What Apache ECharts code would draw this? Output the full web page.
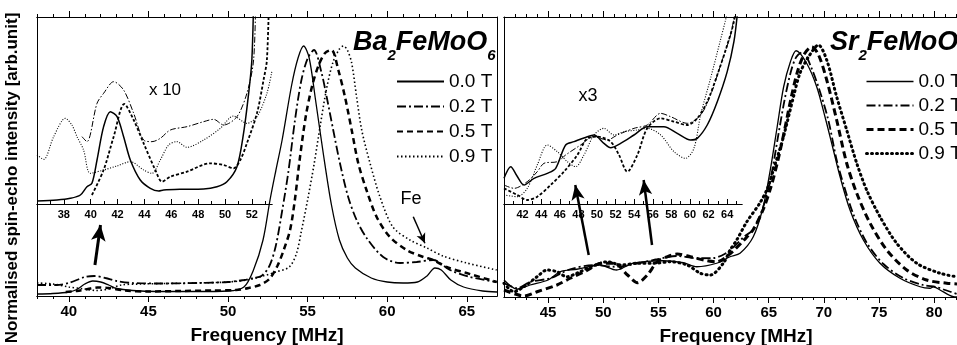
<!DOCTYPE html>
<html>
<head>
<meta charset="utf-8">
<script src="https://cdn.jsdelivr.net/npm/echarts@6.0.0/dist/echarts.min.js"></script>
<style>
  html, body { margin: 0; background: #fff; }
  #chart { width: 957px; height: 345px; }
</style>
</head>
<body>
<div id="chart"></div>
<script>
// ---- Ba2FeMoO6, main spectra (frequency MHz, normalised intensity) ----
var baMain00 = [[38.0,0.008],[39.0,0.010],[40.0,0.016],[40.5,0.026],[41.0,0.048],[41.5,0.060],[42.0,0.056],[42.5,0.044],[43.0,0.030],[44.0,0.022],[45.5,0.018],[48.0,0.018],[50.0,0.020],[51.0,0.036],[51.6,0.104],[52.2,0.224],[52.64,0.384],[53.0,0.500],[53.4,0.624],[54.0,0.844],[54.4,0.952],[54.75,1.0],[55.1,0.952],[55.5,0.784],[56.0,0.564],[56.5,0.364],[57.0,0.224],[57.5,0.152],[58.0,0.112],[59.0,0.072],[60.0,0.056],[61.0,0.052],[61.9,0.056],[62.5,0.080],[63.0,0.112],[63.4,0.104],[64.0,0.064],[64.8,0.036],[66.0,0.020],[66.9,0.016]];
var baMain02 = [[38.0,0.044],[39.2,0.044],[40.0,0.052],[41.0,0.076],[41.6,0.080],[42.3,0.072],[43.0,0.060],[44.0,0.052],[46.0,0.050],[48.0,0.052],[50.0,0.056],[51.0,0.064],[51.6,0.072],[52.1,0.080],[52.6,0.120],[53.0,0.200],[53.4,0.340],[53.8,0.500],[54.2,0.700],[54.6,0.860],[55.0,0.950],[55.4,0.984],[55.88,0.892],[56.2,0.796],[56.61,0.664],[57.03,0.532],[57.55,0.396],[58.08,0.304],[58.71,0.232],[59.75,0.156],[60.8,0.132],[61.85,0.136],[62.89,0.144],[63.94,0.104],[65.2,0.076],[66.88,0.056]];
var baMain05 = [[39.8,0.016],[40.5,0.020],[41.2,0.028],[41.8,0.034],[42.5,0.032],[43.5,0.022],[45.0,0.018],[47.0,0.020],[49.0,0.022],[50.5,0.024],[51.3,0.032],[52.0,0.044],[52.6,0.068],[53.1,0.120],[53.5,0.184],[53.9,0.264],[54.2,0.384],[54.5,0.544],[54.9,0.724],[55.3,0.844],[55.7,0.924],[56.1,0.972],[56.5,0.984],[56.93,0.904],[57.35,0.796],[57.77,0.664],[58.18,0.532],[58.7,0.424],[59.34,0.316],[60.17,0.236],[61.22,0.184],[62.27,0.156],[62.9,0.144],[63.73,0.116],[64.99,0.092],[66.88,0.056]];
var baMain09 = [[38.0,0.052],[39.0,0.048],[40.0,0.036],[41.0,0.028],[41.7,0.022],[42.5,0.028],[43.3,0.044],[44.5,0.048],[46.0,0.050],[48.0,0.052],[50.0,0.056],[51.2,0.064],[52.2,0.080],[53.0,0.096],[53.85,0.116],[54.3,0.170],[54.6,0.256],[55.0,0.384],[55.4,0.524],[55.8,0.684],[56.2,0.832],[56.6,0.936],[57.0,0.988],[57.25,1.0],[57.5,0.984],[57.77,0.932],[58.08,0.796],[58.4,0.664],[58.92,0.532],[59.55,0.396],[60.36,0.276],[61.43,0.224],[62.5,0.192],[63.5,0.160],[65.0,0.132],[66.88,0.104]];

// ---- Ba2FeMoO6, inset (x 10) ----
var baInset00 = [[36.0,0.018],[37.49,0.024],[38.48,0.034],[39.23,0.054],[39.72,0.104],[40.09,0.124],[40.47,0.264],[40.96,0.464],[41.46,0.554],[41.96,0.524],[42.45,0.404],[42.95,0.264],[43.69,0.144],[44.44,0.094],[45.06,0.078],[45.43,0.084],[46.67,0.088],[48.41,0.090],[49.4,0.104],[50.14,0.134],[50.89,0.224],[51.38,0.424],[51.76,0.664],[52.0,0.864],[52.15,1.3]];
var baInset02 = [[39.35,0.404],[39.72,0.374],[40.47,0.604],[40.96,0.664],[41.71,0.734],[42.45,0.684],[43.2,0.544],[43.94,0.384],[44.56,0.374],[45.18,0.394],[45.93,0.444],[47.17,0.464],[48.41,0.494],[49.15,0.508],[49.9,0.474],[50.89,0.524],[51.63,0.664],[52.13,0.864],[52.3,1.3]];
var baInset05 = [[40.09,0.054],[40.96,0.204],[41.71,0.404],[42.5,0.600],[43.2,0.504],[43.94,0.364],[44.81,0.204],[45.31,0.134],[45.93,0.164],[47.17,0.194],[48.9,0.244],[49.9,0.234],[50.64,0.214],[51.14,0.264],[51.63,0.364],[52.38,0.544],[52.87,0.744],[53.12,0.864],[53.3,1.3]];
var baInset09 = [[36.0,0.294],[36.5,0.268],[37.24,0.404],[38.11,0.514],[38.6,0.474],[38.98,0.404],[39.47,0.324],[39.97,0.184],[40.96,0.204],[41.96,0.228],[42.95,0.254],[43.94,0.204],[44.56,0.184],[45.18,0.264],[45.8,0.354],[46.42,0.374],[47.17,0.340],[48.41,0.384],[49.65,0.454],[50.64,0.528],[51.63,0.484],[52.38,0.524],[53.12,0.664],[53.5,0.800]];

// ---- Sr2FeMoO6, main spectra ----
var srMain00 = [[41.0,0.068],[41.5,0.048],[42.15,0.031],[43.36,0.048],[45.0,0.068],[46.08,0.101],[47.6,0.111],[49.7,0.128],[51.2,0.108],[52.7,0.135],[55.4,0.145],[57.26,0.137],[58.47,0.121],[60.28,0.135],[61.49,0.161],[62.4,0.175],[63.6,0.241],[64.5,0.361],[65.14,0.508],[65.75,0.676],[66.35,0.840],[66.96,0.940],[67.48,0.985],[68.44,0.935],[69.35,0.841],[70.1,0.721],[70.86,0.588],[71.47,0.481],[72.37,0.348],[73.58,0.228],[75.09,0.135],[76.9,0.075],[78.72,0.041],[79.63,0.035],[79.93,0.041],[80.53,0.028],[81.74,0.001],[82.1,0.0]];
var srMain02 = [[41.0,0.056],[42.2,0.035],[43.4,0.061],[45.2,0.075],[47.0,0.111],[49.2,0.128],[51.0,0.121],[52.8,0.131],[54.9,0.151],[56.7,0.164],[58.5,0.155],[60.0,0.156],[61.0,0.172],[61.85,0.201],[62.76,0.241],[63.6,0.270],[64.5,0.360],[65.2,0.480],[65.8,0.630],[66.4,0.780],[67.0,0.900],[67.5,0.960],[68.1,0.980],[68.8,0.924],[69.6,0.828],[70.4,0.708],[71.16,0.548],[71.8,0.448],[72.7,0.328],[73.9,0.216],[75.4,0.132],[77.2,0.076],[79.0,0.048],[80.2,0.040],[81.0,0.028],[82.07,0.012]];
var srMain05 = [[41.0,0.028],[42.0,0.012],[42.8,0.004],[44.0,0.021],[45.8,0.048],[47.0,0.075],[48.6,0.108],[49.8,0.135],[51.0,0.135],[52.2,0.088],[53.1,0.057],[54.0,0.088],[54.9,0.141],[55.8,0.161],[56.7,0.172],[57.9,0.161],[59.1,0.148],[60.3,0.141],[61.55,0.175],[62.76,0.228],[63.6,0.270],[64.5,0.350],[65.2,0.440],[65.8,0.540],[66.4,0.660],[67.0,0.790],[67.6,0.900],[68.2,0.970],[68.9,1.0],[69.5,0.970],[70.26,0.868],[71.16,0.708],[72.07,0.535],[72.98,0.415],[74.19,0.295],[75.7,0.188],[77.51,0.108],[79.32,0.068],[81.14,0.055],[82.07,0.052]];
var srMain09 = [[41.0,0.055],[41.9,0.021],[42.8,0.041],[44.0,0.081],[44.9,0.108],[45.8,0.101],[46.7,0.081],[47.6,0.095],[48.9,0.121],[50.4,0.141],[51.6,0.128],[53.1,0.135],[54.6,0.135],[56.1,0.141],[57.6,0.128],[58.8,0.095],[59.7,0.088],[60.9,0.136],[61.5,0.188],[62.1,0.228],[63.0,0.300],[64.2,0.376],[64.9,0.436],[65.42,0.508],[66.33,0.640],[67.24,0.800],[67.84,0.896],[68.6,0.960],[69.5,1.008],[70.26,0.948],[71.16,0.801],[72.07,0.668],[72.98,0.535],[73.88,0.428],[75.09,0.321],[76.6,0.215],[78.42,0.135],[80.53,0.095],[82.04,0.081]];

// ---- Sr2FeMoO6, inset (x3) ----
var srInset00 = [[40.0,0.154],[40.72,0.224],[41.4,0.168],[42.15,0.114],[43.23,0.154],[44.66,0.184],[45.56,0.214],[46.63,0.354],[47.53,0.374],[48.96,0.404],[49.68,0.414],[50.75,0.364],[51.47,0.338],[52.54,0.364],[53.98,0.414],[55.41,0.464],[57.2,0.464],[58.64,0.424],[60.07,0.384],[60.79,0.394],[61.86,0.474],[62.94,0.614],[64.01,0.794],[64.73,0.974],[65.09,1.134]];
var srInset02 = [[40.0,0.114],[41.08,0.094],[42.5,0.134],[43.58,0.194],[44.3,0.244],[45.73,0.254],[46.63,0.294],[48.24,0.354],[49.68,0.404],[51.11,0.384],[52.19,0.414],[53.98,0.454],[55.41,0.474],[56.85,0.544],[57.92,0.524],[59.71,0.484],[61.15,0.534],[62.22,0.654],[63.3,0.834],[64.37,1.014],[64.73,1.114],[65.0,1.2]];
var srInset05 = [[40.0,0.094],[41.43,0.054],[42.5,0.024],[43.58,0.044],[45.02,0.114],[46.45,0.194],[47.89,0.294],[48.96,0.394],[50.04,0.404],[51.47,0.374],[52.37,0.294],[53.26,0.194],[54.34,0.294],[55.41,0.454],[56.85,0.514],[58.28,0.494],[59.71,0.474],[60.79,0.514],[61.86,0.614],[62.94,0.774],[64.01,0.954],[64.73,1.094],[65.0,1.2]];
var srInset09 = [[40.0,0.054],[41.43,0.044],[42.5,0.094],[43.58,0.234],[44.66,0.354],[45.73,0.314],[46.81,0.254],[47.71,0.224],[48.6,0.294],[49.68,0.414],[50.75,0.454],[51.83,0.414],[52.9,0.434],[54.34,0.444],[55.41,0.454],[56.85,0.414],[58.28,0.314],[59.53,0.274],[60.43,0.334],[61.15,0.534],[62.2,0.750],[63.2,0.966],[63.9,1.120],[64.2,1.2]];

// arrows (data coords: start -> tip)
var baArrowBig = [[41.64,0.124],[41.99,0.284]];
var baArrowFe = [[61.64,0.317],[62.37,0.211]];
var srArrow1 = [[48.68,0.168],[47.46,0.448]];
var srArrow2 = [[54.42,0.208],[53.66,0.468]];

// ticks / labels
var fieldNames = ['0.0 T', '0.2 T', '0.5 T', '0.9 T'];
var baMajor = [40, 45, 50, 55, 60, 65];
var srMajor = [45, 50, 55, 60, 65, 70, 75, 80];
var baInsetLabels = [38, 40, 42, 44, 46, 48, 50, 52];
var srInsetLabels = [42, 44, 46, 48, 50, 52, 54, 56, 58, 60, 62, 64];

function range(a, b) {
  var r = [];
  for (var v = a; v <= b; v++) r.push(v);
  return r;
}

var FONT = '"Liberation Sans", Arial, sans-serif';
var BLACK = '#000';

function xAxisOf(grid, min, max, pos, ticks, tickLen, labels, extra) {
  var ax = {
    gridIndex: grid, type: 'value', min: min, max: max, position: pos,
    axisLine: { show: true, onZero: false, lineStyle: { color: BLACK, width: 1 } },
    axisTick: { show: true, customValues: ticks, length: tickLen, lineStyle: { color: BLACK, width: 1 } },
    axisLabel: labels ? { customValues: labels, color: BLACK, fontWeight: 'bold', fontSize: 15, fontFamily: FONT, margin: 8 } : { show: false },
    splitLine: { show: false }
  };
  if (extra) {
    for (var k in extra) ax[k] = extra[k];
  }
  return ax;
}

var xAxes = [
  // 0..3 : Ba main (bottom minor+labels, bottom major, top minor, top major)
  xAxisOf(0, 38, 66.9, 'bottom', range(38, 66), 3, baMajor, {
    name: 'Frequency [MHz]', nameLocation: 'middle', nameGap: 30,
    nameTextStyle: { color: BLACK, fontWeight: 'bold', fontSize: 19, fontFamily: FONT }
  }),
  xAxisOf(0, 38, 66.9, 'bottom', baMajor, 6, null),
  xAxisOf(0, 38, 66.9, 'top', range(38, 66), 3, null),
  xAxisOf(0, 38, 66.9, 'top', baMajor, 6, null),
  // 4..5 : Ba inset
  xAxisOf(1, 36, 53.5, 'bottom', range(37, 53), 3, baInsetLabels),
  xAxisOf(1, 36, 53.5, 'bottom', baInsetLabels, 5, null),
  // 6..9 : Sr main
  xAxisOf(2, 41, 82.07, 'bottom', range(42, 82), 3, srMajor, {
    name: 'Frequency [MHz]', nameLocation: 'middle', nameGap: 30,
    nameTextStyle: { color: BLACK, fontWeight: 'bold', fontSize: 19, fontFamily: FONT, padding: [0, 0, 0, 11] }
  }),
  xAxisOf(2, 41, 82.07, 'bottom', srMajor, 6, null),
  xAxisOf(2, 41, 82.07, 'top', range(42, 82), 3, null),
  xAxisOf(2, 41, 82.07, 'top', srMajor, 6, null),
  // 10..11 : Sr inset
  xAxisOf(3, 40, 65.6, 'bottom', range(41, 65), 3, srInsetLabels),
  xAxisOf(3, 40, 65.6, 'bottom', srInsetLabels, 5, null)
];
// inset axes: small labels, ticks pointing inside
[4, 5, 10, 11].forEach(function (i) {
  xAxes[i].axisTick.inside = true;
  if (xAxes[i].axisLabel.customValues) {
    xAxes[i].axisLabel.fontSize = 11;
    xAxes[i].axisLabel.margin = 5;
  }
});

function frameY(grid, max, pos) {
  return {
    gridIndex: grid, type: 'value', min: 0, max: max, position: pos,
    axisLine: { show: true, onZero: false, lineStyle: { color: BLACK, width: 1 } },
    axisTick: { show: false }, axisLabel: { show: false }, splitLine: { show: false }
  };
}
var yAxes = [
  frameY(0, 1.116, 'left'),
  frameY(0, 1.116, 'right'),
  { gridIndex: 1, type: 'value', min: 0, max: 1.122, show: false },
  frameY(2, 1.12, 'left'),
  { gridIndex: 3, type: 'value', min: 0, max: 1.122, show: false }
];

function line(name, data, xi, yi, style) {
  style.color = BLACK;
  return {
    type: 'line', name: name, data: data, xAxisIndex: xi, yAxisIndex: yi,
    symbol: 'none', showSymbol: false, smooth: 0.3, clip: true, silent: true,
    itemStyle: { color: BLACK },
    lineStyle: style
  };
}

function arrow(pts, width, size) {
  return {
    silent: true, symbol: ['none', 'arrow'], symbolSize: size,
    label: { show: false },
    lineStyle: { type: 'solid', color: BLACK, width: width },
    itemStyle: { color: BLACK },
    data: [[{ coord: pts[0] }, { coord: pts[1] }]]
  };
}

// line styles
var baStyles = [
  { type: 'solid', width: 1.3 },
  { type: [9, 3, 2, 3], width: 1.8 },
  { type: [6, 4], width: 2.5 },
  { type: [1.5, 2.5], width: 1.6 }
];
var srStyles = [
  { type: 'solid', width: 1.3 },
  { type: [9, 3, 2, 3], width: 1.8 },
  { type: [7, 4], width: 3 },
  { type: [1, 4], width: 3, cap: 'round' }
];
var insetStyles = [
  { type: 'solid', width: 1.5 },
  { type: [6, 2, 1.5, 2], width: 1 },
  { type: [3, 2], width: 1.8 },
  { type: [1, 1.6], width: 1.1 }
];
function copy(o) { return JSON.parse(JSON.stringify(o)); }

var series = [
  line(fieldNames[0], baMain00, 0, 0, copy(baStyles[0])),
  line(fieldNames[1], baMain02, 0, 0, copy(baStyles[1])),
  line(fieldNames[2], baMain05, 0, 0, copy(baStyles[2])),
  line(fieldNames[3], baMain09, 0, 0, copy(baStyles[3])),
  line(fieldNames[0], srMain00, 6, 3, copy(srStyles[0])),
  line(fieldNames[1], srMain02, 6, 3, copy(srStyles[1])),
  line(fieldNames[2], srMain05, 6, 3, copy(srStyles[2])),
  line(fieldNames[3], srMain09, 6, 3, copy(srStyles[3])),
  line(fieldNames[0], baInset00, 4, 2, copy(insetStyles[0])),
  line(fieldNames[1], baInset02, 4, 2, copy(insetStyles[1])),
  line(fieldNames[2], baInset05, 4, 2, copy(insetStyles[2])),
  line(fieldNames[3], baInset09, 4, 2, copy(insetStyles[3])),
  line(fieldNames[0], srInset00, 10, 4, copy(insetStyles[0])),
  line(fieldNames[1], srInset02, 10, 4, copy(insetStyles[1])),
  line(fieldNames[2], srInset05, 10, 4, copy(insetStyles[2])),
  line(fieldNames[3], srInset09, 10, 4, copy(insetStyles[3]))
];
series[0].markLine = arrow(baArrowBig, 3, [11, 16]);
series[1].markLine = arrow(baArrowFe, 1.5, [7, 10]);
series[4].markLine = arrow(srArrow1, 2.5, [10, 15]);
series[5].markLine = arrow(srArrow2, 2.5, [10, 15]);

var legendText = { color: BLACK, fontSize: 19, fontFamily: FONT };

function title(x, text) {
  return {
    type: 'text', x: x, y: 23, z: 10, silent: true,
    style: {
      text: text, align: 'left', verticalAlign: 'top', fill: BLACK,
      rich: {
        m: { fontSize: 27, fontWeight: 'bold', fontStyle: 'italic', fontFamily: FONT, lineHeight: 40, fill: BLACK },
        s: { fontSize: 15, fontWeight: 'bold', fontStyle: 'italic', fontFamily: FONT, lineHeight: 15, verticalAlign: 'bottom', fill: BLACK }
      }
    }
  };
}
function note(x, y, text, size) {
  return {
    type: 'text', x: x, y: y, silent: true,
    style: { text: text, fontSize: size, fontFamily: FONT, fill: BLACK, align: 'center', verticalAlign: 'middle' }
  };
}

function grid(left, top, width, height) {
  return { left: left, top: top, width: width, height: height, containLabel: false, outerBoundsMode: 'none' };
}

var chart = echarts.init(document.getElementById('chart'));
chart.setOption({
  animation: false,
  backgroundColor: '#fff',
  grid: [
    grid(37, 17, 460, 279),
    grid(37, 17, 235, 187),
    grid(504, 17, 453, 280),
    grid(504, 17, 238, 187)
  ],
  xAxis: xAxes,
  yAxis: yAxes,
  legend: [
    {
      orient: 'vertical', left: 391, top: 67, itemWidth: 47, itemHeight: 14, itemGap: 6,
      selectedMode: false, textStyle: legendText,
      itemStyle: { opacity: 0 },
      data: fieldNames
    },
    {
      orient: 'vertical', left: 860, top: 67, itemWidth: 47, itemHeight: 14, itemGap: 5,
      selectedMode: false, textStyle: legendText,
      itemStyle: { opacity: 0 },
      data: fieldNames.map(function (n, i) {
        var ls = copy(srStyles[i]);
        ls.color = BLACK;
        return { name: n, lineStyle: ls };
      })
    }
  ],
  graphic: [
    {
      type: 'text', x: 12, y: 178, rotation: Math.PI / 2, silent: true,
      style: {
        text: 'Normalised spin-echo intensity [arb.unit]', fontSize: 17, fontWeight: 'bold',
        fontFamily: FONT, fill: BLACK, align: 'center', verticalAlign: 'middle'
      }
    },
    title(353, '{m|Ba}{s|2}{m|FeMoO}{s|6}'),
    title(830, '{m|Sr}{s|2}{m|FeMoO}{s|6}'),
    note(165, 90, 'x 10', 17),
    note(588, 96, 'x3', 18),
    note(411, 199, 'Fe', 18)
  ],
  series: series
});
</script>
</body>
</html>
